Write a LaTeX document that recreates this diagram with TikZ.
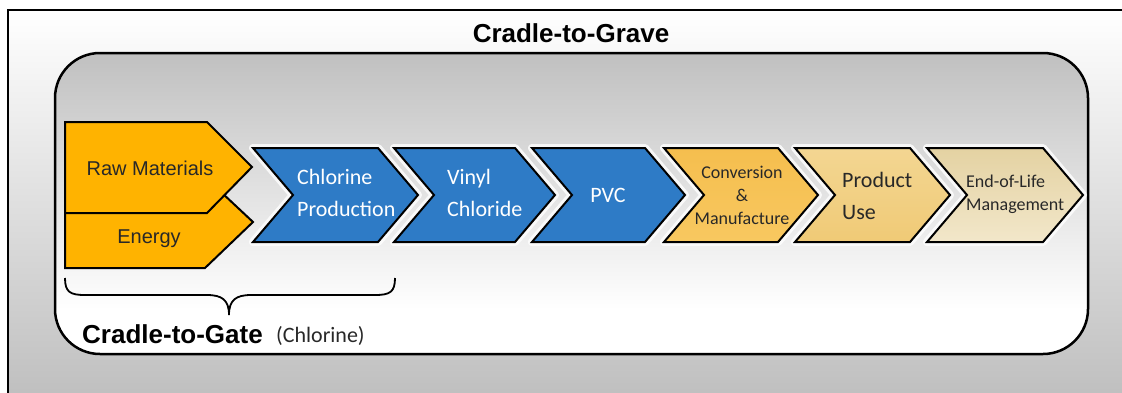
\documentclass[tikz,border=0pt]{standalone}
\usepackage{fontspec}
\setmainfont{Liberation Sans}
\newfontfamily\calibri{Carlito}
\definecolor{orangeA}{RGB}{255,179,0}
\definecolor{blueA}{RGB}{46,123,198}
\definecolor{goldA1}{RGB}{245,190,78}
\definecolor{goldA2}{RGB}{248,200,96}
\definecolor{goldB1}{RGB}{243,214,146}
\definecolor{goldB2}{RGB}{240,202,118}
\definecolor{tanC1}{RGB}{228,210,162}
\definecolor{tanC2}{RGB}{242,231,202}
\definecolor{grayBG}{RGB}{192,192,192}
\definecolor{textD}{RGB}{40,40,40}
\newcommand{\mychev}[3]{%
  \path[halo] (#1,148) -- (#2,148) -- ({#2+40},195) -- (#2,242) -- (#1,242) -- ({#1+40},195) -- cycle;
  \path[edge,#3] (#1,148) -- (#2,148) -- ({#2+40},195) -- (#2,242) -- (#1,242) -- ({#1+40},195) -- cycle;
}
\begin{document}
\begin{tikzpicture}[x=1pt,y=-1pt,
  halo/.style={draw=white, draw opacity=0.8, line width=8pt, line join=round},
  edge/.style={draw=black, line width=2pt, line join=miter},
  frame/.style={draw=black, line width=2.5pt},
  arial/.style={font=\fontsize{20}{24}\selectfont, text=textD, anchor=base},
  calbig/.style={font=\calibri\fontsize{22}{32}\selectfont},
  calsmall/.style={font=\calibri\fontsize{18}{23}\selectfont, text=textD},
  titlefont/.style={font=\bfseries\fontsize{26}{30}\selectfont, text=black},
  lefttext/.style={anchor=west, align=left, inner sep=0pt}
]
\useasboundingbox (0,0) rectangle (1122,392);
\clip (0,0) rectangle (1122,392);
\fill[white] (0,0) rectangle (1122,392);
% outer frame
\shade[top color=white, bottom color=grayBG] (8,10) rectangle (1140,392);
\draw[frame] (8,10) rectangle (1140,410);
% inner rounded box
\begin{scope}
  \clip[rounded corners=45pt] (55,53) rectangle (1088,354);
  \fill[white] (55,53) rectangle (1088,354);
  \shade[top color=grayBG, bottom color=white] (55,53) rectangle (1088,310);
\end{scope}
\draw[frame, rounded corners=45pt] (55,53) rectangle (1088,354);
% orange inputs
\path[edge, fill=orangeA] (65,177) -- (205,177) -- (253,222) -- (205,268) -- (65,268) -- cycle;
\path[edge, fill=orangeA] (65,122) -- (207,122) -- (252,167) -- (207,213) -- (65,213) -- cycle;
% chevrons
\mychev{253}{378}{fill=blueA}
\mychev{394}{515}{fill=blueA}
\mychev{532}{645}{fill=blueA}
\mychev{664}{778}{top color=goldA1, bottom color=goldA2}
\mychev{795}{910}{top color=goldB1, bottom color=goldB2}
\mychev{927}{1043}{top color=tanC1, bottom color=tanC2}
% labels
\node[arial] (raw) at (150,175) {Raw Materials};
\node[arial] (energy) at (149,243) {Energy};
\node[calbig, lefttext, text=white] (chl) at (297,193) {Chlorine\\Production};
\node[calbig, lefttext, text=white] (vin) at (447,193) {Vinyl\\Chloride};
\node[calbig, text=white] (pvc) at (608,195) {PVC};
\node[calsmall, align=center, inner sep=0pt] (conv) at (742,195) {Conversion\\\&\\Manufacture};
\node[calbig, lefttext, text=textD] (use) at (842,196) {Product\\Use};
\node[calsmall, lefttext] (eol) at (966,194) {End-of-Life\\Management};
% titles
\node[titlefont] (grave) at (571,33) {Cradle-to-Grave};
\node[titlefont, anchor=base west, inner sep=0pt] (gate) at (82,343) {Cradle-to-Gate};
\node[font=\calibri\fontsize{22}{26}\selectfont, text=textD, anchor=base west, inner sep=0pt] (chlor) at (276,342) {(Chlorine)};
% brace
\coordinate (bl) at (65,278);
\coordinate (br) at (395,278);
\coordinate (bt) at (229,315);
\draw[line width=1.8pt] (bl) .. controls (65,292) and (70,295) .. (85,295) -- (207,295)
  .. controls (222,295) and (229,300) .. (bt)
  .. controls (229,300) and (236,295) .. (251,295) -- (375,295)
  .. controls (390,295) and (395,292) .. (br);
\end{tikzpicture}
\end{document}
